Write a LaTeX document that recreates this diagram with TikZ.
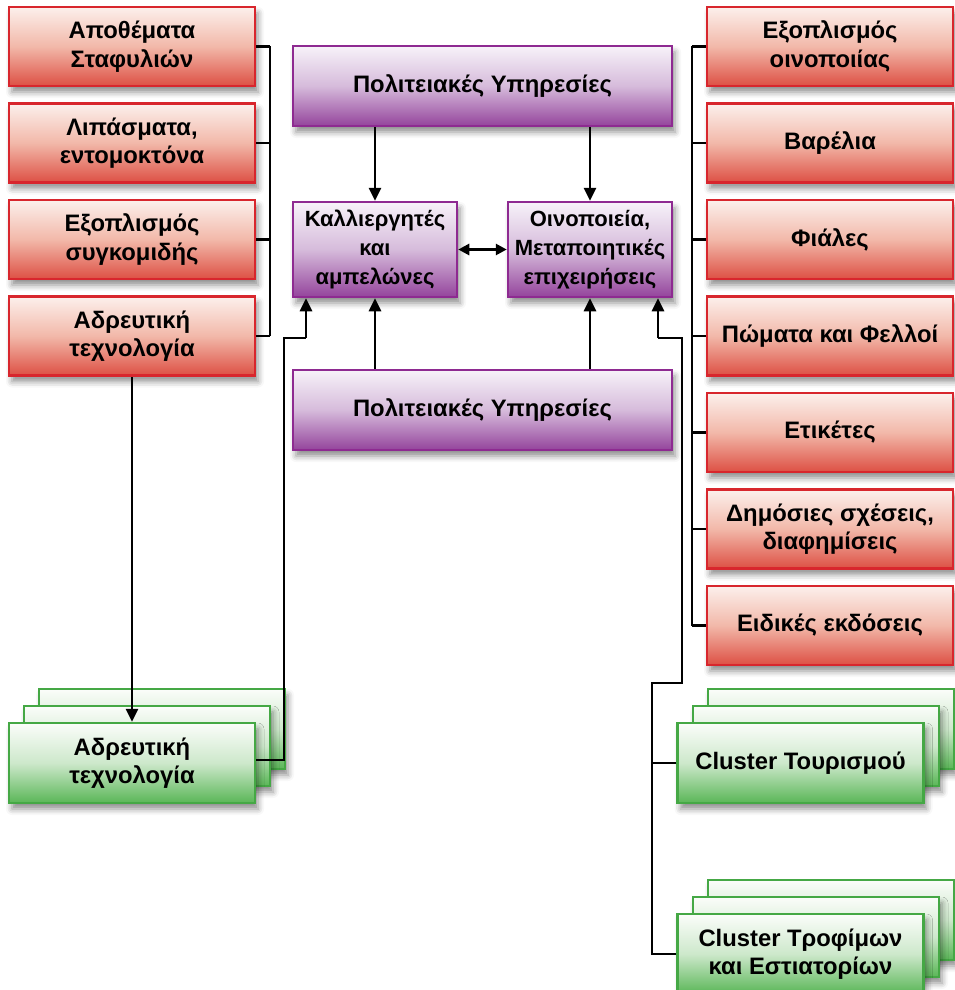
\documentclass[tikz,border=0pt]{standalone}
\usepackage{fontspec}
\setmainfont{Liberation Sans}
\usetikzlibrary{arrows.meta,shadows.blur,calc}

\definecolor{redline}{HTML}{D8262D}
\definecolor{redtop}{HTML}{FCF0EC}
\definecolor{redmid}{HTML}{F2B8A9}
\definecolor{redbot}{HTML}{DD5044}
\definecolor{purline}{HTML}{8E2A91}
\definecolor{purtop}{HTML}{F7F2F9}
\definecolor{purmid}{HTML}{D6BBDB}
\definecolor{purbot}{HTML}{94449C}
\definecolor{grnline}{HTML}{45A845}
\definecolor{grntop}{HTML}{FBFDFA}
\definecolor{grnmid}{HTML}{CDE8CB}
\definecolor{grnbot}{HTML}{5AB657}

\begin{document}
\begin{tikzpicture}[x=1pt,y=-1pt,
  base/.style={rectangle, line width=2.5pt, align=center, inner sep=0pt,
    font=\fontsize{23.8}{28.5}\selectfont\bfseries,
    blur shadow={shadow xshift=3pt, shadow yshift=-6pt, shadow blur radius=6pt, shadow opacity=45}},
  redbox/.style={base, draw=redline, top color=redtop, bottom color=redbot, middle color=redmid,
    minimum width=246pt, minimum height=79pt},
  purbox/.style={base, draw=purline, top color=purtop, bottom color=purbot, middle color=purmid},
  corebox/.style={purbox, minimum width=164pt, minimum height=95pt,
    font=\fontsize{22}{29}\selectfont\bfseries},
  grnbox/.style={base, draw=grnline, top color=grntop, bottom color=grnbot, middle color=grnmid,
    minimum width=246pt, minimum height=80pt},
  link/.style={line width=2.7pt},
  arr/.style={link, -{Triangle[width=12pt,length=13pt]}},
  darr/.style={link, {Triangle[width=11pt,length=11pt]}-{Triangle[width=11pt,length=11pt]}},
]
\useasboundingbox (0,0) rectangle (954,990);

% supplier boxes on the left
\node[redbox] (l1) at (132,46.5)  {Αποθέματα\\Σταφυλιών};
\node[redbox] (l2) at (132,143)   {Λιπάσματα,\\εντομοκτόνα};
\node[redbox] (l3) at (132,239.5) {Εξοπλισμός\\συγκομιδής};
\node[redbox] (l4) at (132,336)   {Αδρευτική\\τεχνολογία};

% supplier boxes on the right
\node[redbox] (r1) at (830,46.5)  {Εξοπλισμός\\οινοποιίας};
\node[redbox] (r2) at (830,143)   {Βαρέλια};
\node[redbox] (r3) at (830,239.5) {Φιάλες};
\node[redbox] (r4) at (830,336)   {Πώματα και Φελλοί};
\node[redbox] (r5) at (830,432.5) {Ετικέτες};
\node[redbox] (r6) at (830,529)   {Δημόσιες σχέσεις,\\διαφημίσεις};
\node[redbox] (r7) at (830,625.5) {Ειδικές εκδόσεις};

% core of the cluster
\node[purbox, minimum width=379pt, minimum height=80pt] (ptop) at (482.5,86)  {Πολιτειακές Υπηρεσίες};
\node[purbox, minimum width=379pt, minimum height=80pt] (pbot) at (482.5,410) {Πολιτειακές Υπηρεσίες};
\node[corebox] (kal)  at (375,249.5) {Καλλιεργητές\\και\\αμπελώνες};
\node[corebox] (oino) at (590,249.5) {Οινοποιεία,\\Μεταποιητικές\\επιχειρήσεις};

% related clusters (stacked)
\node[grnbox] (glb) at (162,729) {};
\node[grnbox] (glm) at (147,746) {};
\node[grnbox] (gl)  at (132,763) {Αδρευτική\\τεχνολογία};

\node[grnbox] (t1b) at (831,729) {};
\node[grnbox] (t1m) at (816,746) {};
\node[grnbox] (t1)  at (800.5,763) {Cluster Τουρισμού};

\node[grnbox] (t2b) at (831,920) {};
\node[grnbox] (t2m) at (816,937) {};
\node[grnbox] (t2)  at (800.5,954) {Cluster Τροφίμων\\και Εστιατορίων};

% bus lines
\coordinate (lbus) at (270,0);
\coordinate (rbus) at (692,0);
\foreach \n in {l1,l2,l3,l4} \draw[link] (\n.east) -- (\n.east -| lbus);
\draw[link] (l1.east -| lbus) -- (l4.east -| lbus);
\foreach \n in {r1,r2,r3,r4,r5,r6,r7} \draw[link] (\n.west) -- (\n.west -| rbus);
\draw[link] (r1.west -| rbus) -- (r7.west -| rbus);

% flows into the core
\draw[arr] (l4.south) -- (gl.north);
\draw[arr] (ptop.south -| kal.north) -- (kal.north);
\draw[arr] (ptop.south -| oino.north) -- (oino.north);
\draw[arr] (pbot.north -| kal.south) -- (kal.south);
\draw[arr] (pbot.north -| oino.south) -- (oino.south);
\draw[darr] (kal.east) -- (oino.west);

\coordinate (gA) at (284,760);
\coordinate (gB) at (306,338);
\draw[link] (gl.east |- gA) -- (gA) |- (gB);
\draw[arr] (gB) -- (gB |- kal.south);

\coordinate (cbus) at (652,683);
\coordinate (cA) at (682,683);
\coordinate (cB) at (658,338);
\draw[link] (t2.west) -- (t2.west -| cbus) -- (cbus) -- (cA) |- (cB);
\draw[link] (t1.west) -- (t1.west -| cbus);
\draw[arr] (cB) -- (cB |- oino.south);
\end{tikzpicture}
\end{document}
